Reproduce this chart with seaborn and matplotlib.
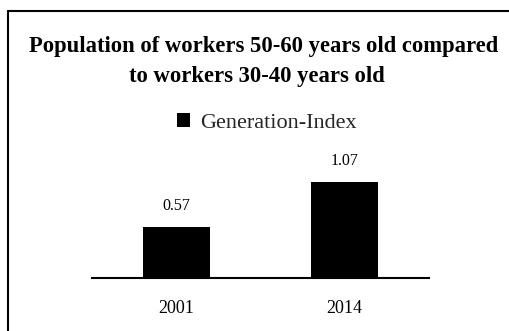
import matplotlib
matplotlib.use("Agg")
import matplotlib.pyplot as plt
from matplotlib.lines import Line2D
import seaborn as sns
import pandas as pd

years = ["2001", "2014"]
values = [0.57, 1.07]
series = ["Generation-Index", "Generation-Index"]
title_lines = ["Population of workers 50-60 years old compared",
               "to workers 30-40 years old"]

sns.set_theme(style="white")
plt.rcParams["font.family"] = ["Liberation Serif", "DejaVu Serif"]

W, H = 510, 331
fig = plt.figure(figsize=(W / 100, H / 100), dpi=100)
fig.patch.set_facecolor("white")

ax = fig.add_axes([92 / W, (H - 278) / H, 337 / W, 108 / H])
df = pd.DataFrame({"year": years, "value": values, "series": series})
sns.barplot(data=df, x="year", y="value", hue="series", palette=["black"],
            width=0.4, ax=ax, saturation=1, edgecolor="black", linewidth=0)
ax.set_xlim(-0.5, 1.5)
ax.set_ylim(0, 1.2)
ax.set_xlabel("")
ax.set_ylabel("")
ax.set_yticks([])
for s in ["top", "right", "left"]:
    ax.spines[s].set_visible(False)
ax.spines["bottom"].set_color("black")
ax.spines["bottom"].set_linewidth(1.5)
ax.tick_params(axis="x", length=0, pad=16, labelsize=13, colors="black")
ax.set_facecolor("white")

for c in ax.containers:
    ax.bar_label(c, labels=[f"{v:.2f}" for v in values], padding=9,
                 fontsize=11.5, color="black")

sns.move_legend(ax, loc="center left", bbox_to_anchor=(177 / W, 1 - 123 / H),
                bbox_transform=fig.transFigure, title=None, frameon=False,
                fontsize=16, handlelength=0.6, handleheight=0.55,
                handletextpad=0.45, borderpad=0, borderaxespad=0)

fig.text(264 / W, 1 - 52 / H, title_lines[0], ha="center", va="baseline",
         fontsize=16.3, fontweight="bold", color="black")
fig.text(257 / W, 1 - 82 / H, title_lines[1], ha="center", va="baseline",
         fontsize=16.3, fontweight="bold", color="black")

fig.add_artist(Line2D([8 / W, 1], [1 - 11 / H, 1 - 11 / H],
                      transform=fig.transFigure, color="black", lw=1.5))
fig.add_artist(Line2D([8 / W, 8 / W], [0, 1 - 11 / H],
                      transform=fig.transFigure, color="black", lw=1.5))

fig.savefig("out.png", dpi=100, facecolor="white")
